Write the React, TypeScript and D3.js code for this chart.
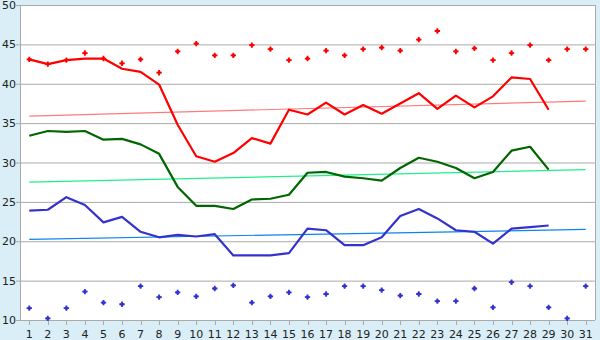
import * as React from 'react';
import * as d3 from 'd3';

const days = d3.range(1, 32);
const yTicks = [10, 15, 20, 25, 30, 35, 40, 45, 50];

// daily values
const maxLine = [43.1, 42.5, 43.0, 43.2, 43.2, 41.9, 41.5, 39.9, 34.8, 30.8, 30.1, 31.2, 33.1, 32.4, 36.7, 36.1, 37.6, 36.1, 37.3, 36.2, 37.5, 38.8, 36.8, 38.5, 37.0, 38.4, 40.8, 40.6, 36.7];
const maxPoints = [43.1, 42.5, 43.0, 43.9, 43.2, 42.6, 43.1, 41.4, 44.1, 45.1, 43.6, 43.6, 44.9, 44.4, 43.0, 43.2, 44.2, 43.6, 44.4, 44.6, 44.2, 45.6, 46.7, 44.1, 44.5, 43.0, 43.9, 44.9, 43.0, 44.4, 44.4];
const midLine = [33.4, 34.0, 33.9, 34.0, 32.9, 33.0, 32.3, 31.1, 26.9, 24.5, 24.5, 24.1, 25.3, 25.4, 25.9, 28.7, 28.8, 28.2, 28.0, 27.7, 29.3, 30.6, 30.1, 29.3, 28.0, 28.8, 31.5, 32.0, 29.1];
const minLine = [23.9, 24.0, 25.6, 24.6, 22.4, 23.1, 21.2, 20.5, 20.8, 20.6, 20.9, 18.2, 18.2, 18.2, 18.5, 21.6, 21.4, 19.5, 19.5, 20.5, 23.2, 24.1, 22.9, 21.4, 21.2, 19.7, 21.6, 21.8, 22.0];
const minPoints = [11.5, 10.2, 11.5, 13.6, 12.2, 12.0, 14.3, 12.9, 13.5, 13.0, 14.0, 14.4, 12.2, 13.0, 13.5, 12.9, 13.3, 14.3, 14.3, 13.8, 13.1, 13.3, 12.4, 12.4, 14.0, 11.6, 14.8, 14.3, 11.6, 10.2, 14.3];

// trend lines: value at day 1 and day 31
const maxTrend = [35.9, 37.8];
const midTrend = [27.5, 29.1];
const minTrend = [20.25, 21.5];

export default function App() {
  const ref = React.useRef<SVGSVGElement>(null);

  React.useEffect(() => {
    document.body.style.margin = '0';
    const W = 600, H = 340;
    const margin = { top: 5, right: 5, bottom: 20, left: 20 };
    const svg = d3.select(ref.current);
    svg.selectAll('*').remove();

    svg.append('rect').attr('width', W).attr('height', H).attr('fill', '#d9eef6');

    const x = d3.scalePoint<number>()
      .domain(days)
      .range([margin.left, W - margin.right])
      .padding(0.5);
    const y = d3.scaleLinear().domain([10, 50]).range([H - margin.bottom, margin.top]);

    svg.append('rect')
      .attr('x', margin.left).attr('y', margin.top)
      .attr('width', W - margin.left - margin.right)
      .attr('height', H - margin.top - margin.bottom)
      .attr('fill', '#fff');

    // grid
    svg.append('g').selectAll('line').data(yTicks).enter().append('line')
      .attr('x1', margin.left - 4).attr('x2', W - margin.right)
      .attr('y1', d => y(d) + 0.5).attr('y2', d => y(d) + 0.5)
      .attr('stroke', '#aaa');
    svg.append('line')
      .attr('x1', W - margin.right + 0.5).attr('x2', W - margin.right + 0.5)
      .attr('y1', margin.top).attr('y2', H - margin.bottom)
      .attr('stroke', '#aaa');
    svg.append('line')
      .attr('x1', margin.left + 0.5).attr('x2', margin.left + 0.5)
      .attr('y1', margin.top).attr('y2', H - margin.bottom)
      .attr('stroke', '#aaa');

    // y labels
    svg.append('g').selectAll('text').data(yTicks).enter().append('text')
      .attr('x', 16).attr('y', d => y(d) + 4)
      .attr('text-anchor', 'end')
      .style('font-family', 'DejaVu Sans')
      .style('font-size', '11px')
      .attr('fill', '#222')
      .text(d => d);

    // x ticks + labels
    const xa = svg.append('g');
    xa.selectAll('line').data(days).enter().append('line')
      .attr('x1', d => Math.round(x(d)!) + 0.5).attr('x2', d => Math.round(x(d)!) + 0.5)
      .attr('y1', H - margin.bottom).attr('y2', H - margin.bottom + 5)
      .attr('stroke', '#aaa');
    xa.selectAll('text').data(days).enter().append('text')
      .attr('x', d => x(d)!).attr('y', 338)
      .attr('text-anchor', 'middle')
      .style('font-family', 'DejaVu Sans')
      .style('font-size', '11px')
      .attr('fill', '#222')
      .text(d => d);

    // trends
    const trends: [number[], string][] = [[maxTrend, '#ff7b7b'], [midTrend, '#1ef08a'], [minTrend, '#0a84f0']];
    trends.forEach(([t, c]) => {
      svg.append('line')
        .attr('x1', x(1)!).attr('x2', x(31)!)
        .attr('y1', y(t[0])).attr('y2', y(t[1]))
        .attr('stroke', c).attr('stroke-width', 1.2);
    });

    const line = d3.line<number>().x((d, i) => x(days[i])!).y(d => y(d));
    const series: [number[], string][] = [[maxLine, '#ff0000'], [midLine, '#006600'], [minLine, '#3333cc']];
    series.forEach(([s, c]) => {
      svg.append('path').datum(s)
        .attr('d', line)
        .attr('fill', 'none')
        .attr('stroke', c)
        .attr('stroke-width', 2.2)
        .attr('stroke-linejoin', 'round');
    });

    // markers: small plus with a solid centre
    const cross = d3.symbol().type(d3.symbolCross).size(16);
    const dot = d3.symbol().type(d3.symbolSquare).size(8);
    const pts: [number[], string][] = [[maxPoints, '#ff0000'], [minPoints, '#3333cc']];
    pts.forEach(([p, c]) => {
      const g = svg.append('g').selectAll('g').data(p).enter().append('g')
        .attr('transform', (d, i) => `translate(${x(days[i])},${y(d)})`);
      g.append('path').attr('d', cross).attr('fill', c);
      g.append('path').attr('d', dot).attr('fill', c);
    });
  }, []);

  return (
    <div>
      <svg ref={ref} width={600} height={340} style={{ display: 'block' }} />
    </div>
  );
}
